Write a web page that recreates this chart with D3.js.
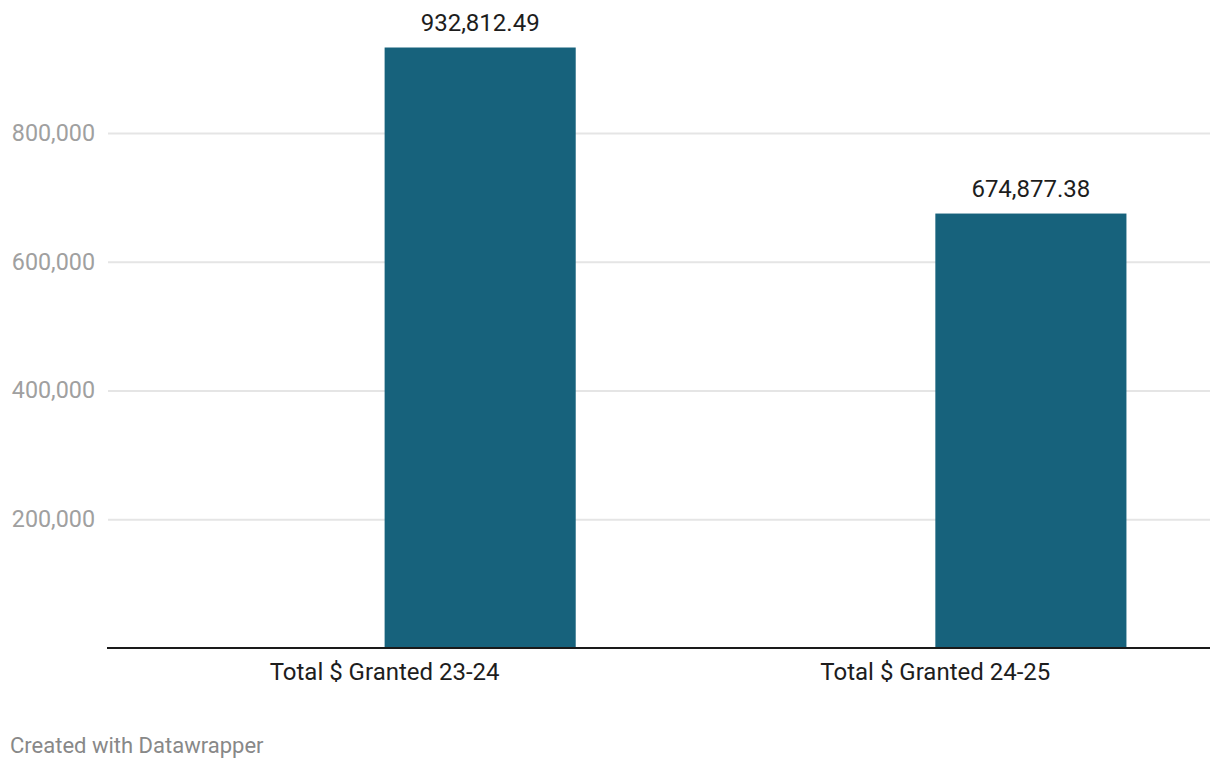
<!DOCTYPE html>
<html>
<head>
<meta charset="utf-8">
<script src="https://cdn.jsdelivr.net/npm/d3@7"></script>
<style>
  html, body { margin: 0; padding: 0; background: #fff; }
  svg { display: block; font-family: Roboto, "Noto Sans", sans-serif; }
</style>
</head>
<body>
<svg id="chart" width="1220" height="768"></svg>
<script>
const categories = ["Total $ Granted 23-24", "Total $ Granted 24-25"];
const values = [932812.49, 674877.38];
const yTicks = [200000, 400000, 600000, 800000];
const footer = "Created with Datawrapper";

(function () {
const svg = d3.select("#chart");
const mLeft = 108, mRight = 1210, mBottom = 648;

const y = d3.scaleLinear().domain([0, 800000]).range([mBottom, mBottom - 515]);
const x = d3.scaleBand().domain(categories).range([mLeft, mRight])
  .paddingInner(0.653).paddingOuter(0.327).align(0.768);

// gridlines + tick labels
const yAxis = d3.axisLeft(y).tickValues(yTicks).tickSize(0).tickFormat(d3.format(","));
const gy = svg.append("g").attr("transform", `translate(${mLeft},0)`).call(yAxis);
gy.select(".domain").remove();
gy.selectAll(".tick text").attr("x", -13).attr("fill", "#a0a0a0")
  .style("font-size", "23.3px").style("font-family", "Roboto, sans-serif");
gy.selectAll(".tick").append("line")
  .attr("x1", 0).attr("x2", mRight - mLeft)
  .attr("stroke", "#e5e5e5").attr("stroke-width", 2);

// bars
svg.append("g").selectAll("rect").data(values).join("rect")
  .attr("x", (d, i) => x(categories[i]))
  .attr("width", x.bandwidth())
  .attr("y", d => y(d))
  .attr("height", d => y(0) - y(d))
  .attr("fill", "#17627c");

// value labels
svg.append("g").selectAll("text").data(values).join("text")
  .attr("x", (d, i) => x(categories[i]) + x.bandwidth() / 2)
  .attr("y", d => y(d) - 17)
  .attr("text-anchor", "middle")
  .attr("fill", "#1d1d1d")
  .style("font-size", "24px")
  .text(d => d3.format(",.2f")(d));

// x axis (labels centred on the bars' left edges, as in the reference)
const xAxis = d3.axisBottom(x).tickSize(0).tickPadding(15);
const gx = svg.append("g").attr("transform", `translate(0,${mBottom})`).call(xAxis);
gx.select(".domain").attr("stroke", "#1a1a1a").attr("stroke-width", 2)
  .attr("d", `M${mLeft - 1},0H${mRight}`);
gx.selectAll(".tick text").attr("fill", "#1d1d1d")
  .attr("x", -x.bandwidth() / 2)
  .style("font-size", "24px").style("font-family", "Roboto, sans-serif");

// footer
svg.append("text").attr("x", 10).attr("y", 753)
  .attr("fill", "#888").style("font-size", "22px")
  .text(footer);
})();
</script>
</body>
</html>
